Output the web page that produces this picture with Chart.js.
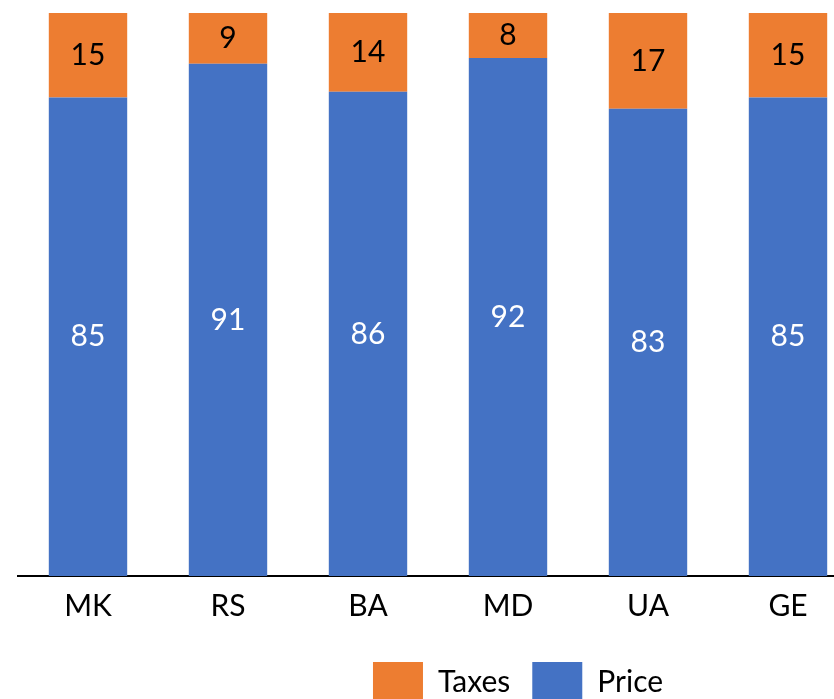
<!DOCTYPE html>
<html>
<head>
<meta charset="utf-8">
<script src="https://cdn.jsdelivr.net/npm/chart.js@4/dist/chart.umd.min.js"></script>
<style>
  html, body { margin: 0; padding: 0; background: #fff; overflow: hidden; }
  #wrap { position: absolute; left: 0; top: 0; width: 858px; height: 700px; }
</style>
</head>
<body>
<div id="wrap"><canvas id="chart"></canvas></div>
<script>
const countries = ["MK", "RS", "BA", "MD", "UA", "GE"];
const price = [85, 91, 86, 92, 83, 85];
const taxes = [15, 9, 14, 8, 17, 15];

const FONT = "Lato, 'Liberation Sans', sans-serif";

// writes each segment's value in its middle
const segmentLabels = {
  id: "segmentLabels",
  afterDatasetsDraw(chart) {
    const { ctx } = chart;
    ctx.save();
    ctx.font = `30px ${FONT}`;
    ctx.textAlign = "center";
    ctx.textBaseline = "middle";
    chart.data.datasets.forEach((ds, i) => {
      const meta = chart.getDatasetMeta(i);
      meta.data.forEach((bar, j) => {
        const mid = (bar.y + bar.base) / 2;
        ctx.fillStyle = ds.labelColor;
        ctx.fillText(ds.data[j], bar.x, mid);
      });
    });
    ctx.restore();
  },
};

// legend sits a bit right of the middle and lower in the original
const legendShift = {
  id: "legendShift",
  afterLayout(chart) {
    const lg = chart.legend;
    lg.left += 80;
    lg.right += 80;
    lg.top += 12;
    lg.bottom += 12;
  },
};

new Chart(document.getElementById("chart"), {
  type: "bar",
  data: {
    labels: countries,
    datasets: [
      {
        label: "Price",
        data: price,
        backgroundColor: "#4472C4",
        labelColor: "#ffffff",
      },
      {
        label: "Taxes",
        data: taxes,
        backgroundColor: "#ED7D31",
        labelColor: "#000000",
      },
    ],
  },
  options: {
    responsive: true,
    maintainAspectRatio: false,
    animation: false,
    barPercentage: 0.56,
    categoryPercentage: 1,
    layout: { padding: { top: 13, left: 18, right: 0, bottom: 0 } },
    scales: {
      x: {
        stacked: true,
        grid: { display: false },
        border: { display: true, color: "#000", width: 2 },
        ticks: { color: "#000", font: { family: FONT, size: 30 }, padding: 4 },
      },
      y: {
        stacked: true,
        display: false,
        min: 0,
        max: 100,
      },
    },
    plugins: {
      legend: {
        position: "bottom",
        reverse: true,
        labels: {
          color: "#000",
          font: { family: FONT, size: 30 },
          boxWidth: 50,
          boxHeight: 40,
          padding: 22,
        },
      },
      tooltip: { enabled: false },
    },
  },
  plugins: [segmentLabels, legendShift],
});
</script>
</body>
</html>
